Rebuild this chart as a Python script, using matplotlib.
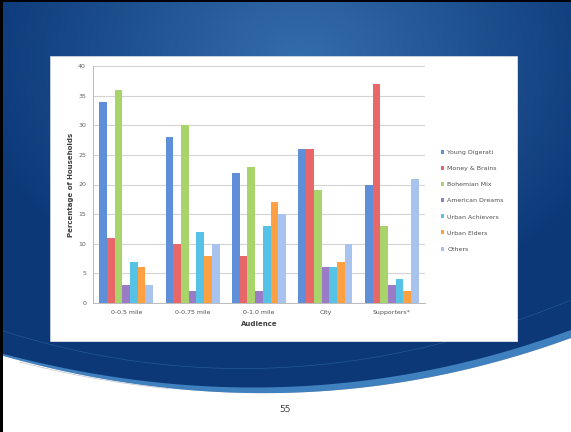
import numpy as np
import matplotlib
matplotlib.use("Agg")
import matplotlib.pyplot as plt
from matplotlib.patches import Rectangle, Polygon

categories = ["0-0.5 mile", "0-0.75 mile", "0-1.0 mile", "City", "Supporters*"]
series_names = ["Young Digerati", "Money & Brains", "Bohemian Mix", "American Dreams",
                "Urban Achievers", "Urban Elders", "Others"]
young_digerati = [34, 28, 22, 26, 20]
money_brains = [11, 10, 8, 26, 37]
bohemian_mix = [36, 30, 23, 19, 13]
american_dreams = [3, 2, 2, 6, 3]
urban_achievers = [7, 12, 13, 6, 4]
urban_elders = [6, 8, 17, 7, 2]
others = [3, 10, 15, 10, 21]
series_values = [young_digerati, money_brains, bohemian_mix, american_dreams,
                 urban_achievers, urban_elders, others]
y_ticks = [0, 5, 10, 15, 20, 25, 30, 35, 40]
colors = ["#5F8FD8", "#E8686A", "#A9D36B", "#9A7BC6", "#56C3E6", "#FFA043", "#A9C3EF"]

W, H = 571, 432
fig = plt.figure(figsize=(W / 100, H / 100), dpi=100)

# ---- slide background ----
bg = fig.add_axes([0, 0, 1, 1])
bg.set_xlim(0, W)
bg.set_ylim(H, 0)
bg.axis("off")
yy, xx = np.mgrid[0:H, 0:W]
d = np.sqrt(((xx - 300) / 330.0) ** 2 + ((yy - 60) / 260.0) ** 2)
d = np.clip(d, 0, 1)
c0 = np.array([0x34, 0x6E, 0xAA]) / 255.0
c1 = np.array([0x0C, 0x38, 0x78]) / 255.0
img = c0[None, None, :] * (1 - d[..., None]) + c1[None, None, :] * d[..., None]
bg.imshow(img, extent=(0, W, H, 0), aspect="auto", zorder=0)

t = np.linspace(0, 1, 200)
def bez(p0, p1, p2):
    x = (1 - t) ** 2 * p0[0] + 2 * (1 - t) * t * p1[0] + t ** 2 * p2[0]
    y = (1 - t) ** 2 * p0[1] + 2 * (1 - t) * t * p1[1] + t ** 2 * p2[1]
    return x, y

# light band
bx, by = bez((0, 353), (294, 432), (571, 330))
bx2, by2 = bez((0, 355), (294, 439), (571, 338))
band = np.vstack([np.column_stack([bx, by]), np.column_stack([bx2[::-1], by2[::-1]])])
bg.add_patch(Polygon(band, closed=True, facecolor="#3F80BE", edgecolor="none", zorder=1))
# white lower area
poly = np.vstack([np.column_stack([bx2, by2]), [[W, H], [0, H]]])
bg.add_patch(Polygon(poly, closed=True, facecolor="white", edgecolor="none", zorder=2))
# thin decorative lines
lx, ly = bez((20, 362), (260, 425), (571, 365))
bg.plot(lx[:60], ly[:60], color="#C8CCD4", lw=0.6, zorder=3)
lx, ly = bez((0, 330), (280, 420), (571, 300))
bg.plot(lx, ly, color="#245896", lw=0.5, zorder=1.5)

# black border left/top
bg.add_patch(Rectangle((0, 0), 2.5, H, facecolor="black", edgecolor="none", zorder=4))
bg.add_patch(Rectangle((0, 0), W, 2, facecolor="black", edgecolor="none", zorder=4))

# chart box
bg.add_patch(Rectangle((51, 57), 467, 285, facecolor="#9AA6B8", edgecolor="none", zorder=4))
bg.add_patch(Rectangle((50, 56), 467, 285, facecolor="white", edgecolor="#D8DCE2", lw=0.5, zorder=5))

bg.text(285, 410, "55", ha="center", va="center", fontsize=6.5, color="#404040",
        family="DejaVu Sans", zorder=6)

# ---- chart ----
ax = fig.add_axes([93 / W, 1 - 303 / H, (425 - 93) / W, (303 - 66) / H])
ax.set_facecolor("none")
n = len(series_names)
bw = 0.116
x = np.arange(len(categories))
for i, (name, vals, col) in enumerate(zip(series_names, series_values, colors)):
    ax.bar(x + (i - (n - 1) / 2) * bw, vals, bw, color=col, label=name,
           edgecolor="none", zorder=3)
ax.set_xlim(-0.5, len(categories) - 0.5)
ax.set_ylim(0, 40)
ax.set_yticks(y_ticks)
ax.set_yticklabels([str(v) for v in y_ticks], fontsize=4.5, color="#606060")
ax.set_xticks(x)
ax.set_xticklabels(categories, fontsize=4.5, color="#505050")
ax.tick_params(axis="both", length=0, pad=5)
ax.yaxis.grid(True, color="#D4D4D4", lw=0.8, zorder=0)
for s in ["top", "right"]:
    ax.spines[s].set_visible(False)
ax.spines["left"].set_color("#B0B0B0")
ax.spines["bottom"].set_color("#B0B0B0")
ax.spines["left"].set_linewidth(0.6)
ax.spines["bottom"].set_linewidth(0.6)
ax.set_xlabel("Audience", fontsize=5, fontweight="bold", color="#404040", labelpad=4)
ax.set_ylabel("Percentage of Households", fontsize=5, fontweight="bold", color="#404040",
              labelpad=3)
leg = ax.legend(loc="upper left", bbox_to_anchor=(1.03, 0.67), frameon=False,
                fontsize=4.5, handlelength=0.6, handleheight=0.6, labelspacing=1.75,
                handletextpad=0.5)
for txt in leg.get_texts():
    txt.set_color("#505050")

fig.savefig("out.png", dpi=100)
